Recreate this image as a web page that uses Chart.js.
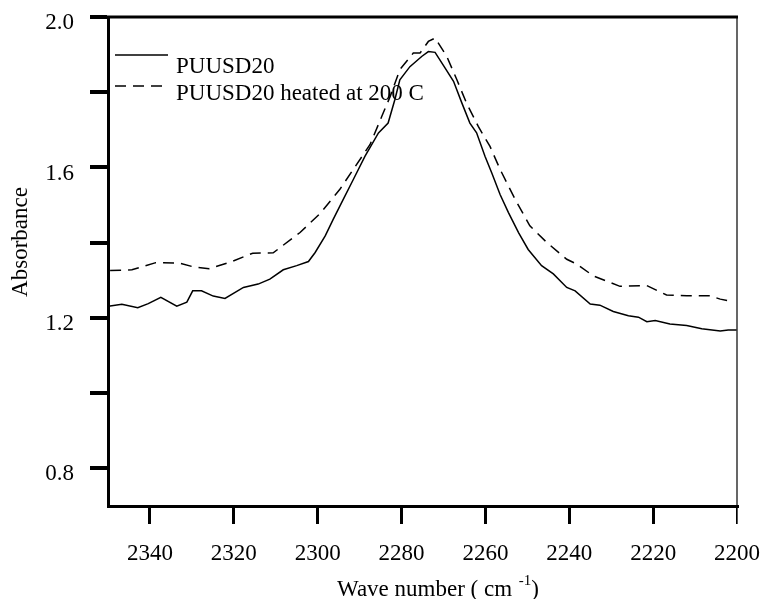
<!DOCTYPE html>
<html>
<head>
<meta charset="utf-8">
<script src="https://cdn.jsdelivr.net/npm/chart.js@4.4.1/dist/chart.umd.min.js"></script>
<style>
html,body{margin:0;padding:0;background:#fff;}
#wrap{width:762px;height:599px;position:relative;}
</style>
</head>
<body>
<div id="wrap"><canvas id="c" width="762" height="599"></canvas></div>
<script>
// ---- data ----
const seriesNames = ["PUUSD20", "PUUSD20 heated at 200 C"];

const solidWave = [2349.9,2346.7,2342.9,2340.4,2337.4,2333.6,2331.2,2329.8,2327.7,2324.9,2322.1,2317.7,2314.2,2311.4,2308.2,2305.0,2302.2,2300.6,2298.2,2296.3,2293.9,2291.5,2288.7,2285.5,2283.2,2281.6,2280.4,2278.0,2275.2,2273.6,2272.0,2269.6,2267.6,2265.6,2263.7,2262.1,2260.1,2258.5,2256.5,2254.5,2252.1,2249.8,2246.6,2243.8,2240.6,2238.6,2235.0,2232.7,2229.5,2225.9,2223.5,2221.5,2219.5,2216.0,2212.0,2208.4,2204.0,2202.1,2200.1];
const solidAbs  = [1.231,1.236,1.227,1.238,1.255,1.231,1.242,1.272,1.272,1.258,1.252,1.281,1.290,1.303,1.328,1.339,1.350,1.374,1.418,1.462,1.515,1.568,1.630,1.692,1.718,1.780,1.833,1.868,1.895,1.908,1.906,1.864,1.829,1.771,1.718,1.692,1.630,1.586,1.528,1.480,1.427,1.382,1.339,1.317,1.281,1.272,1.237,1.234,1.217,1.206,1.202,1.190,1.193,1.184,1.180,1.171,1.165,1.168,1.168];

const heatedWave = [2349.5,2344.3,2338.6,2333.1,2329.7,2325.9,2320.7,2315.5,2310.6,2305.8,2304.2,2299.4,2294.7,2291.5,2287.5,2284.7,2282.7,2280.4,2277.2,2275.6,2273.6,2272.0,2269.2,2266.8,2264.5,2261.7,2258.9,2256.5,2252.9,2249.4,2245.4,2240.6,2238.2,2234.3,2227.9,2221.5,2216.8,2212.0,2206.4,2204.0,2200.9];
const heatedAbs  = [1.326,1.328,1.347,1.346,1.336,1.331,1.349,1.372,1.373,1.414,1.427,1.478,1.542,1.595,1.661,1.736,1.789,1.860,1.904,1.904,1.935,1.944,1.895,1.833,1.771,1.709,1.656,1.595,1.515,1.445,1.401,1.356,1.343,1.312,1.284,1.286,1.261,1.259,1.259,1.250,1.243];

const xTickValues = [2340,2320,2300,2280,2260,2240,2220,2200];
const xTickLabels = ["2340","2320","2300","2280","2260","2240","2220","2200"];
const yTickValues = [0.8,1.0,1.2,1.4,1.6,1.8,2.0];
const yTickLabels = ["0.8","","1.2","","1.6","","2.0"];
const xTitle = "Wave number ( cm";
const xTitleSup = "-1";
const xTitleEnd = ")";
const yTitle = "Absorbance";

// ---- build ----
const FONT = "'Liberation Serif', 'Times New Roman', serif";
const FS = 23;
const toPts = (xs, ys) => xs.map((x, i) => ({x: x, y: ys[i]}));
const zeroPad = s => { s.paddingTop = 0; s.paddingBottom = 0; s.paddingLeft = 0; s.paddingRight = 0; };

const framePlugin = {
  id: 'frame',
  afterDraw(chart) {
    const {ctx, chartArea: a} = chart;
    ctx.save();
    ctx.strokeStyle = '#000';
    ctx.lineWidth = 3;
    ctx.beginPath(); ctx.moveTo(90, a.top); ctx.lineTo(a.right + 1, a.top); ctx.stroke();
    ctx.lineWidth = 1.2;
    ctx.beginPath(); ctx.moveTo(a.right, a.top); ctx.lineTo(a.right, a.bottom + 18); ctx.stroke();

    // legend
    const ds = chart.data.datasets;
    const rows = [{ly: 55, ty: 73}, {ly: 86, ty: 100}];
    ctx.font = FS + "px " + FONT;
    ctx.fillStyle = '#000';
    ctx.textBaseline = 'alphabetic';
    ds.forEach((d, i) => {
      ctx.lineWidth = d.borderWidth;
      ctx.setLineDash(d.borderDash || []);
      ctx.beginPath(); ctx.moveTo(115, rows[i].ly); ctx.lineTo(168, rows[i].ly); ctx.stroke();
      ctx.setLineDash([]);
      ctx.fillText(d.label, 176, rows[i].ty);
    });

    // x title with superscript
    ctx.font = FS + "px " + FONT;
    const w1 = ctx.measureText(xTitle + " ").width;
    ctx.font = "15px " + FONT;
    const w2 = ctx.measureText(xTitleSup).width;
    ctx.font = FS + "px " + FONT;
    const w3 = ctx.measureText(xTitleEnd).width;
    let sx = (a.left + a.right) / 2 - (w1 + w2 + w3) / 2 + 15;
    ctx.fillText(xTitle + " ", sx, 596);
    ctx.font = "15px " + FONT;
    ctx.fillText(xTitleSup, sx + w1 + 1, 585);
    ctx.font = FS + "px " + FONT;
    ctx.fillText(xTitleEnd, sx + w1 + w2 + 1, 596);

    // y title
    ctx.save();
    ctx.translate(21, 242);
    ctx.rotate(-Math.PI / 2);
    ctx.textAlign = 'center';
    ctx.textBaseline = 'middle';
    ctx.fillText(yTitle, 0, 0);
    ctx.restore();
    ctx.restore();
  }
};

new Chart(document.getElementById('c'), {
  type: 'line',
  data: {
    datasets: [
      {label: seriesNames[0], data: toPts(solidWave, solidAbs), borderColor: '#000', borderWidth: 1.5, pointRadius: 0, tension: 0, fill: false},
      {label: seriesNames[1], data: toPts(heatedWave, heatedAbs), borderColor: '#000', borderWidth: 1.5, borderDash: [11, 7], pointRadius: 0, tension: 0, fill: false}
    ]
  },
  options: {
    responsive: false,
    animation: false,
    devicePixelRatio: 1,
    layout: {padding: {top: 17, right: 25, left: 0, bottom: 0}},
    plugins: {legend: {display: false}, tooltip: {enabled: false}},
    scales: {
      x: {
        type: 'linear', reverse: true, min: 2200, max: 2350,
        afterBuildTicks: s => { s.ticks = xTickValues.map(v => ({value: v})); },
        afterFit: s => { s.height = 93; zeroPad(s); },
        ticks: {
          color: '#000', font: {family: FONT, size: FS}, padding: 16, maxRotation: 0, autoSkip: false,
          callback: (v) => { const i = xTickValues.indexOf(v); return i >= 0 ? xTickLabels[i] : ''; }
        },
        grid: {drawOnChartArea: false, drawTicks: true, tickLength: 18, color: '#000',
               lineWidth: c => (c.tick && c.tick.value === 2200) ? 1.2 : 3},
        border: {display: true, color: '#000', width: 3}
      },
      y: {
        type: 'linear', min: 0.7, max: 2.0,
        afterBuildTicks: s => { s.ticks = yTickValues.map(v => ({value: v})); },
        afterFit: s => { s.width = 108; zeroPad(s); },
        ticks: {
          color: '#000', font: {family: FONT, size: FS}, padding: 16, autoSkip: false, labelOffset: 6,
          callback: (v) => { const i = yTickValues.findIndex(t => Math.abs(t - v) < 1e-6); return i >= 0 ? yTickLabels[i] : ''; }
        },
        grid: {drawOnChartArea: false, drawTicks: true, tickLength: 18, color: '#000', lineWidth: 4},
        border: {display: true, color: '#000', width: 3}
      }
    }
  },
  plugins: [framePlugin]
});
</script>
</body>
</html>
